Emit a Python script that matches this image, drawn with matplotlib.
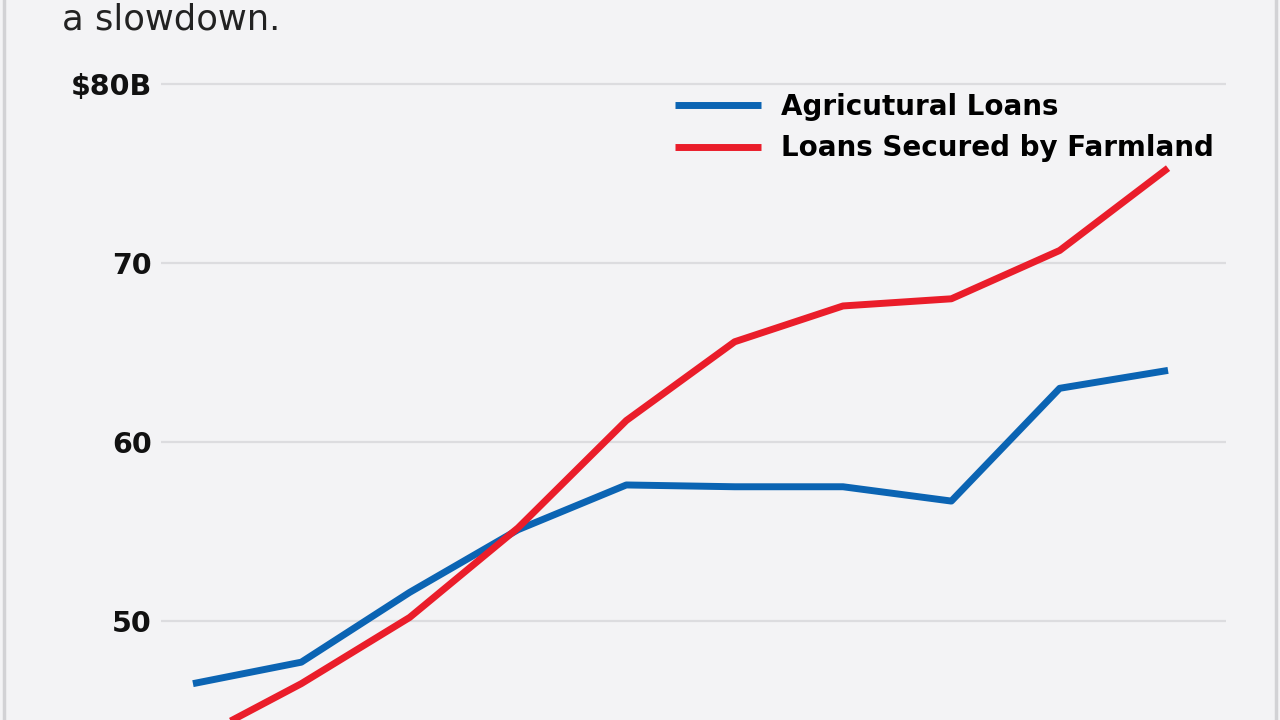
import matplotlib
matplotlib.use("Agg")
from matplotlib import pyplot as plt
from matplotlib.lines import Line2D

# yearly points, left to right (x axis has no labels in the crop)
periods = list(range(10))
agricultural_loans = [46.5, 47.7, 51.6, 55.1, 57.6, 57.5, 57.5, 56.7, 63.0, 64.0]
farmland_loans = [43.3, 46.5, 50.2, 55.2, 61.2, 65.6, 67.6, 68.0, 70.7, 75.3]

y_ticks = [50, 60, 70, 80]
y_tick_labels = ["50", "60", "70", "$80B"]
series_names = ["Agricutural Loans", "Loans Secured by Farmland"]

BG = "#f3f3f5"
BLUE = "#0b64b3"
RED = "#ea1d2a"
GRID = "#dcdcdf"

fig = plt.figure(figsize=(12.8, 7.2), dpi=100, facecolor=BG)

# panel border lines on the left and right edges
fig.add_artist(Line2D([0.0035, 0.0035], [0, 1], transform=fig.transFigure,
                      color="#d2d2d5", linewidth=2.5))
fig.add_artist(Line2D([0.9965, 0.9965], [0, 1], transform=fig.transFigure,
                      color="#d2d2d5", linewidth=2.5))

fig.text(62 / 1280, 1 - 30 / 720, "a slowdown.", fontsize=25.5,
         color="#222222", ha="left", va="baseline", family="DejaVu Sans")

ax = fig.add_axes([161 / 1280, 0, 1065 / 1280, 660 / 720])
ax.set_facecolor(BG)

ax.plot(periods, agricultural_loans, color=BLUE, linewidth=5,
        solid_joinstyle="round", solid_capstyle="butt", label=series_names[0], zorder=3)
ax.plot(periods, farmland_loans, color=RED, linewidth=5,
        solid_joinstyle="round", solid_capstyle="butt", label=series_names[1], zorder=4)

ax.set_xlim(-0.295, 9.535)
ax.set_ylim(44.47, 81.34)
ax.set_yticks(y_ticks)
ax.set_yticklabels(y_tick_labels, fontsize=20.5, fontweight="bold", color="#111111")
ax.set_xticks([])
ax.tick_params(axis="y", length=0, pad=6.5)
ax.grid(axis="y", color=GRID, linewidth=1.6)
ax.set_axisbelow(True)
for spine in ax.spines.values():
    spine.set_visible(False)

leg = ax.legend(loc="upper left", bbox_to_anchor=(675 / 1280, 1 - 93 / 720),
                bbox_transform=fig.transFigure, frameon=False, borderpad=0,
                borderaxespad=0, handlelength=3.1, handletextpad=0.7,
                labelspacing=0.48, prop={"size": 20, "weight": "bold"})
for line in leg.get_lines():
    line.set_linewidth(5)

fig.savefig("out.png", dpi=100, facecolor=BG)
